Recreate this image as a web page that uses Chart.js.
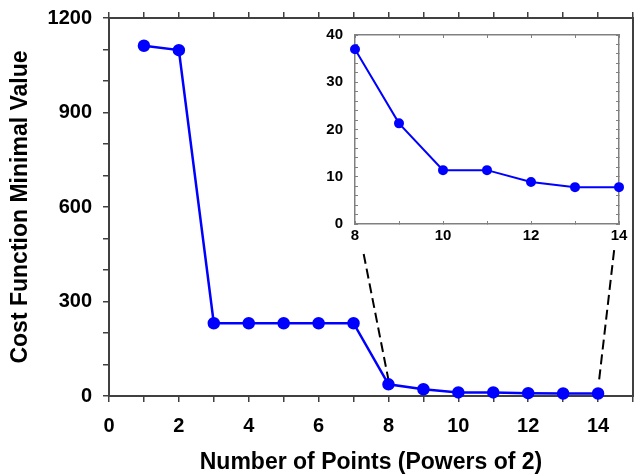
<!DOCTYPE html>
<html>
<head>
<meta charset="utf-8">
<script src="https://cdn.jsdelivr.net/npm/chart.js@4/dist/chart.umd.min.js"></script>
<style>
  html, body { margin: 0; padding: 0; background: #fff; }
  #wrap { position: relative; width: 634px; height: 476px; }
  #main { position: absolute; left: 0; top: 0; }
  #inset { position: absolute; left: 318px; top: 22px; }
</style>
</head>
<body>
<div id="wrap">
  <canvas id="main" width="634" height="476"></canvas>
  <canvas id="inset" width="316" height="228"></canvas>
</div>
<script>
// ---- data ----
const powers = [1, 2, 3, 4, 5, 6, 7, 8, 9, 10, 11, 12, 13, 14];
const costValues = [1112, 1098, 231, 231, 231, 231, 231, 37, 21.3, 11.4, 11.4, 8.9, 7.8, 7.8];
const insetStart = 8; // inset shows powers 8..14
// connector (dashed) lines, in main-chart data coordinates
const connectorLeftX = [7.29, 8.0];
const connectorLeftY = [451, 51];
const connectorRightX = [14.46, 14.03];
const connectorRightY = [463, 51];
// tick labels
const mainXTickLabels = [0, 2, 4, 6, 8, 10, 12, 14];
const mainYTickLabels = [0, 300, 600, 900, 1200];
const insetXTickLabels = [8, 10, 12, 14];
const insetYTickLabels = [0, 10, 20, 30, 40];

const FONT = "'Liberation Sans', Arial, Helvetica, sans-serif";
const AX = '#404040';
const INAX = '#808080';

const toXY = (xs, ys) => xs.map((x, i) => ({ x: x, y: ys[i] }));
const mainPts = toXY(powers, costValues);
const insetPts = mainPts.filter(p => p.x >= insetStart);

function noPad(s) { s.paddingLeft = 0; s.paddingRight = 0; s.paddingTop = 0; s.paddingBottom = 0; }
function fixW(w) { return s => { s.width = w; noPad(s); }; }
function fixH(h) { return s => { s.height = h; noPad(s); }; }

new Chart(document.getElementById('main'), {
  type: 'line',
  data: {
    datasets: [
      {
        data: mainPts,
        borderColor: '#0000ff', backgroundColor: '#0000ff',
        borderWidth: 2.5, pointRadius: 5, pointHoverRadius: 5,
        pointBackgroundColor: '#0000ff', pointBorderColor: '#0000ff',
        tension: 0, clip: false
      },
      {
        data: toXY(connectorLeftX, connectorLeftY),
        borderColor: '#000', borderWidth: 2, borderDash: [10, 5],
        pointRadius: 0, tension: 0
      },
      {
        data: toXY(connectorRightX, connectorRightY),
        borderColor: '#000', borderWidth: 2, borderDash: [10, 5],
        pointRadius: 0, tension: 0
      }
    ]
  },
  options: {
    responsive: false, animation: false,
    layout: { padding: 0, autoPadding: false },
    plugins: { legend: { display: false }, tooltip: { enabled: false } },
    scales: {
      x: {
        type: 'linear', position: 'bottom', min: 0, max: 15,
        ticks: {
          stepSize: 1, autoSkip: false, maxRotation: 0, padding: 12,
          color: '#000', font: { family: FONT, size: 20, weight: 'bold' },
          callback: v => mainXTickLabels.includes(v) ? String(v) : ''
        },
        grid: { drawOnChartArea: false, tickLength: 6, color: AX, lineWidth: 1.5 },
        border: { color: AX, width: 2 },
        title: {
          display: true, text: 'Number of Points (Powers of 2)', color: '#000',
          font: { family: FONT, size: 23, weight: 'bold' }, padding: { top: 0, bottom: 0 }
        },
        afterFit: fixH(80)
      },
      xTop: {
        type: 'linear', position: 'top', min: 0, max: 15,
        ticks: { display: false, stepSize: 1, autoSkip: false },
        grid: { drawOnChartArea: false, tickLength: 6, color: AX, lineWidth: 1.5 },
        border: { color: AX, width: 2 },
        afterFit: fixH(18)
      },
      y: {
        type: 'linear', position: 'left', min: 0, max: 1200,
        ticks: {
          stepSize: 100, autoSkip: false, padding: 11,
          color: '#000', font: { family: FONT, size: 20, weight: 'bold' },
          callback: v => mainYTickLabels.includes(v) ? String(v) : ''
        },
        grid: { drawOnChartArea: false, tickLength: 6, color: AX, lineWidth: 1.5 },
        border: { color: AX, width: 2 },
        title: {
          display: true, text: 'Cost Function Minimal Value', color: '#000',
          font: { family: FONT, size: 23, weight: 'bold' }, padding: { top: 7, bottom: 0 }
        },
        afterFit: fixW(109)
      },
      yRight: {
        type: 'linear', position: 'right', min: 0, max: 1200,
        ticks: { display: false },
        grid: { drawOnChartArea: false, drawTicks: false },
        border: { color: AX, width: 2 },
        afterFit: fixW(1)
      }
    }
  }
});

new Chart(document.getElementById('inset'), {
  type: 'line',
  data: {
    datasets: [{
      data: insetPts,
      borderColor: '#0000ff', backgroundColor: '#0000ff',
      borderWidth: 2, pointRadius: 4, pointHoverRadius: 4,
      pointBackgroundColor: '#0000ff', pointBorderColor: '#0000ff',
      tension: 0, clip: false
    }]
  },
  options: {
    responsive: false, animation: false,
    layout: { padding: 0, autoPadding: false },
    plugins: { legend: { display: false }, tooltip: { enabled: false } },
    scales: {
      x: {
        type: 'linear', position: 'bottom', min: 8, max: 14,
        ticks: {
          stepSize: 1, autoSkip: false, maxRotation: 0, padding: 6,
          color: '#000', font: { family: FONT, size: 15, weight: 'bold' },
          callback: v => insetXTickLabels.includes(v) ? String(v) : ''
        },
        grid: { drawOnChartArea: false, tickLength: -3, color: INAX, lineWidth: 1 },
        border: { color: INAX, width: 1.5 },
        afterFit: fixH(26)
      },
      xTop: {
        type: 'linear', position: 'top', min: 8, max: 14,
        ticks: { display: false, stepSize: 1, autoSkip: false },
        grid: { drawOnChartArea: false, tickLength: -3, color: INAX, lineWidth: 1 },
        border: { color: INAX, width: 1.5 },
        afterFit: fixH(13)
      },
      y: {
        type: 'linear', position: 'left', min: 0, max: 40,
        ticks: {
          stepSize: 2, autoSkip: false, padding: 15,
          color: '#000', font: { family: FONT, size: 15, weight: 'bold' },
          callback: v => insetYTickLabels.includes(v) ? String(v) : ''
        },
        grid: { drawOnChartArea: false, tickLength: -3, color: INAX, lineWidth: 1 },
        border: { color: INAX, width: 1.5 },
        afterFit: fixW(37)
      },
      yRight: {
        type: 'linear', position: 'right', min: 0, max: 40,
        ticks: { display: false, stepSize: 2, autoSkip: false },
        grid: { drawOnChartArea: false, tickLength: -3, color: INAX, lineWidth: 1 },
        border: { color: INAX, width: 1.5 },
        afterFit: fixW(15)
      }
    }
  }
});
</script>
</body>
</html>
